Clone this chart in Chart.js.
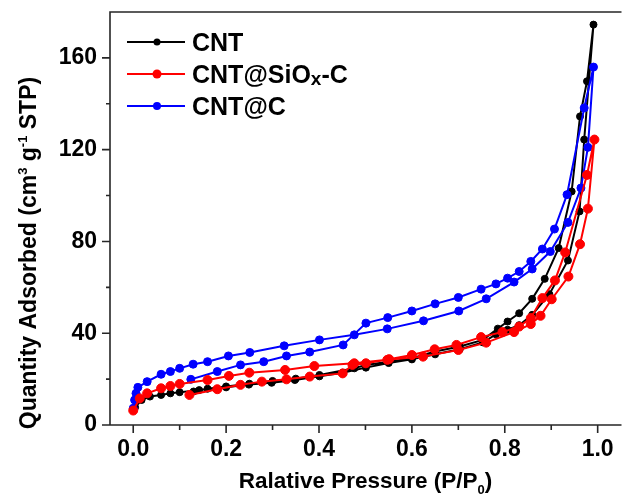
<!DOCTYPE html>
<html>
<head>
<meta charset="utf-8">
<title>N2 isotherms</title>
<script src="https://cdn.jsdelivr.net/npm/chart.js@4/dist/chart.umd.min.js"></script>
<style>
  html, body { margin: 0; padding: 0; background: #ffffff; }
  #wrap { width: 625px; height: 497px; position: relative; }
</style>
</head>
<body>
<div id="wrap"><canvas id="isoChart"></canvas></div>
<script>
/* Isotherm data, adsorption branch then desorption branch */
const cntP = [0.004, 0.018, 0.036, 0.060, 0.080, 0.100, 0.142, 0.200, 0.249, 0.298, 0.348, 0.401, 0.451, 0.501, 0.550, 0.600, 0.650, 0.703, 0.753, 0.781, 0.806, 0.831, 0.859, 0.896, 0.936, 0.961, 0.971, 0.991,
  0.977, 0.962, 0.944, 0.916, 0.886, 0.859, 0.831, 0.806, 0.785, 0.753, 0.703, 0.650, 0.600, 0.550, 0.501, 0.476, 0.401, 0.350, 0.300, 0.250, 0.200, 0.160, 0.130];
const cntV = [7.7, 10.9, 12.4, 13.1, 13.8, 14.3, 15.2, 16.4, 17.6, 18.4, 19.6, 21.2, 22.8, 25.0, 27.0, 28.6, 30.8, 33.0, 36.0, 39.5, 41.5, 43.5, 48.0, 57.0, 71.7, 93.1, 124.4, 174.5,
  149.8, 134.5, 101.8, 77.1, 63.7, 55.0, 48.7, 45.1, 42.0, 37.1, 34.2, 32.0, 29.1, 27.6, 26.2, 24.7, 21.8, 20.2, 19.2, 18.0, 16.8, 15.8, 14.6];

const sioxP = [0.000, 0.014, 0.030, 0.060, 0.080, 0.100, 0.160, 0.206, 0.250, 0.327, 0.390, 0.476, 0.547, 0.624, 0.700, 0.760, 0.820, 0.856, 0.877, 0.901, 0.937, 0.962, 0.979, 0.993,
  0.977, 0.930, 0.908, 0.881, 0.856, 0.831, 0.795, 0.749, 0.696, 0.649, 0.600, 0.551, 0.501, 0.472, 0.451, 0.380, 0.330, 0.277, 0.231, 0.181, 0.121];
const sioxV = [6.3, 11.6, 13.8, 16.0, 17.0, 17.9, 19.6, 21.4, 22.8, 24.0, 25.7, 26.9, 28.4, 29.8, 32.7, 35.9, 40.5, 44.0, 47.6, 54.8, 64.7, 78.8, 94.3, 124.4,
  109.0, 75.2, 63.0, 55.3, 46.6, 42.9, 40.5, 38.3, 34.9, 33.0, 30.5, 28.7, 26.9, 26.2, 22.5, 21.1, 19.9, 18.9, 17.5, 15.6, 13.1];

const cP = [0.000, 0.003, 0.006, 0.010, 0.030, 0.060, 0.080, 0.100, 0.129, 0.160, 0.205, 0.251, 0.325, 0.401, 0.476, 0.547, 0.625, 0.701, 0.760, 0.820, 0.859, 0.898, 0.936, 0.964, 0.979, 0.991,
  0.971, 0.934, 0.907, 0.881, 0.856, 0.831, 0.806, 0.781, 0.749, 0.700, 0.650, 0.600, 0.548, 0.501, 0.452, 0.380, 0.330, 0.281, 0.231, 0.181, 0.124];
const cV = [7.3, 10.9, 13.8, 16.4, 18.9, 22.1, 23.3, 24.7, 26.5, 27.6, 30.1, 31.6, 34.5, 37.1, 39.3, 41.9, 45.4, 49.7, 55.0, 62.3, 68.0, 75.6, 88.3, 103.3, 121.0, 156.0,
  138.2, 100.4, 85.4, 76.7, 71.3, 66.9, 64.0, 61.5, 59.2, 55.6, 52.8, 49.7, 46.8, 44.4, 34.9, 31.8, 30.1, 27.6, 26.2, 23.3, 19.9];

const xTicks = [0.0, 0.2, 0.4, 0.6, 0.8, 1.0];
const yTicks = [0, 40, 80, 120, 160];
const xMinor = [0.1, 0.3, 0.5, 0.7, 0.9];
const yMinor = [20, 60, 100, 140];

const FONT = "'Liberation Sans', Arial, sans-serif";

const toPoints = (px, py) => px.map((p, i) => ({ x: p, y: py[i] }));

function series(label, px, py, color, radius, order) {
  return {
    label: label,
    data: toPoints(px, py),
    showLine: true,
    borderColor: color,
    backgroundColor: color,
    borderWidth: 2,
    pointRadius: radius,
    pointBorderWidth: 1,
    pointBorderColor: color,
    pointBackgroundColor: color,
    order: order,
  };
}

// draws text pieces (for sub/superscripts) centred on x
function drawRich(ctx, parts, x, y) {
  let total = 0;
  parts.forEach((p) => {
    ctx.font = "bold " + p.size + "px " + FONT;
    p.w = ctx.measureText(p.t).width;
    total += p.w;
  });
  let cx = x - total / 2;
  parts.forEach((p) => {
    ctx.font = "bold " + p.size + "px " + FONT;
    ctx.fillText(p.t, cx, y + (p.dy || 0));
    cx += p.w;
  });
}

const framePlugin = {
  id: "frame",
  afterDraw(chart) {
    const ctx = chart.ctx;
    const a = chart.chartArea;
    const xs = chart.scales.x;
    const ys = chart.scales.y;
    ctx.save();
    ctx.strokeStyle = "#262626";
    ctx.lineWidth = 1.6;
    ctx.beginPath();
    ctx.moveTo(a.right + 2, a.top);
    ctx.lineTo(a.left, a.top);
    ctx.lineTo(a.left, a.bottom);
    ctx.lineTo(a.right + 2, a.bottom);
    xTicks.forEach((v) => {
      const px = xs.getPixelForValue(v);
      ctx.moveTo(px, a.bottom);
      ctx.lineTo(px, a.bottom + 8);
    });
    xMinor.forEach((v) => {
      const px = xs.getPixelForValue(v);
      ctx.moveTo(px, a.bottom);
      ctx.lineTo(px, a.bottom + 5);
    });
    yTicks.forEach((v) => {
      const py = ys.getPixelForValue(v);
      ctx.moveTo(a.left, py);
      ctx.lineTo(a.left - 8, py);
    });
    yMinor.forEach((v) => {
      const py = ys.getPixelForValue(v);
      ctx.moveTo(a.left, py);
      ctx.lineTo(a.left - 4, py);
    });
    ctx.stroke();

    // axis titles
    ctx.fillStyle = "#000000";
    ctx.textBaseline = "alphabetic";
    ctx.textAlign = "left";
    drawRich(ctx, [
      { t: "Ralative Pressure (P/P", size: 22.5 },
      { t: "0", size: 13, dy: 6 },
      { t: ")", size: 22.5 },
    ], xs.getPixelForValue(0.5), 488);

    ctx.translate(36, 253);
    ctx.rotate(-Math.PI / 2);
    drawRich(ctx, [
      { t: "Quantity Adsorbed (cm", size: 23 },
      { t: "3", size: 13, dy: -9 },
      { t: " g", size: 23 },
      { t: "-1", size: 13, dy: -9 },
      { t: " STP)", size: 23 },
    ], 0, 0);
    ctx.restore();
  },
};

const legendPlugin = {
  id: "insideLegend",
  afterDatasetsDraw(chart) {
    const ctx = chart.ctx;
    const rows = [
      { parts: [{ t: "CNT", size: 25 }], color: "#000000", r: 3.5, y: 42 },
      { parts: [{ t: "CNT@SiO", size: 25 }, { t: "x", size: 19, dy: 2 }, { t: "-C", size: 25 }], color: "#ff0000", r: 4.5, y: 74 },
      { parts: [{ t: "CNT@C", size: 25 }], color: "#0000ff", r: 4, y: 106 },
    ];
    ctx.save();
    rows.forEach((row) => {
      ctx.strokeStyle = row.color;
      ctx.fillStyle = row.color;
      ctx.lineWidth = 2;
      ctx.beginPath();
      ctx.moveTo(127, row.y);
      ctx.lineTo(185, row.y);
      ctx.stroke();
      ctx.beginPath();
      ctx.arc(157, row.y, row.r, 0, Math.PI * 2);
      ctx.fill();
      ctx.fillStyle = "#000000";
      ctx.textAlign = "left";
      ctx.textBaseline = "alphabetic";
      let x = 192;
      row.parts.forEach((p) => {
        ctx.font = "bold " + p.size + "px " + FONT;
        ctx.fillText(p.t, x, row.y + 9 + (p.dy || 0));
        x += ctx.measureText(p.t).width;
      });
    });
    ctx.restore();
  },
};

new Chart(document.getElementById("isoChart"), {
  type: "scatter",
  data: {
    datasets: [
      series("CNT@SiOx-C", sioxP, sioxV, "#ff0000", 4.5, 1),
      series("CNT@C", cP, cV, "#0000ff", 4, 2),
      series("CNT", cntP, cntV, "#000000", 3.5, 3),
    ],
  },
  options: {
    responsive: true,
    maintainAspectRatio: false,
    animation: false,
    layout: { padding: { top: 12, right: 0, left: 0, bottom: 0 } },
    plugins: {
      legend: { display: false },
      tooltip: { enabled: false },
    },
    scales: {
      x: {
        type: "linear",
        min: -0.05,
        max: 1.047,
        afterBuildTicks: (scale) => {
          scale.ticks = xTicks.map((v) => ({ value: v }));
        },
        afterFit: (scale) => {
          scale.height = 72;
          scale.paddingLeft = 0;
          scale.paddingRight = 0;
        },
        grid: { display: false, drawTicks: false },
        border: { display: false },
        ticks: {
          padding: 11,
          color: "#000000",
          maxRotation: 0,
          font: { family: FONT, size: 23, weight: "bold" },
          callback: (v) => Number(v).toFixed(1),
        },
      },
      y: {
        type: "linear",
        min: 0,
        max: 180,
        afterBuildTicks: (scale) => {
          scale.ticks = yTicks.map((v) => ({ value: v }));
        },
        afterFit: (scale) => {
          scale.width = 110;
          scale.paddingTop = 0;
          scale.paddingBottom = 0;
        },
        grid: { display: false, drawTicks: false },
        border: { display: false },
        ticks: {
          padding: 13,
          color: "#000000",
          font: { family: FONT, size: 23, weight: "bold" },
          callback: (v) => String(v),
        },
      },
    },
  },
  plugins: [framePlugin, legendPlugin],
});
</script>
</body>
</html>
